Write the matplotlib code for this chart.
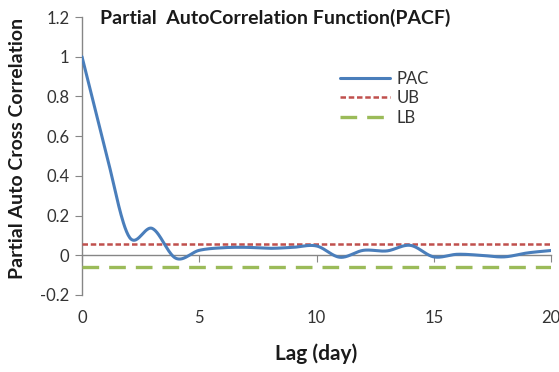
import numpy as np
import matplotlib
matplotlib.use("Agg")
import matplotlib.pyplot as plt
from matplotlib.transforms import blended_transform_factory

plt.rcParams['font.family'] = ['Lato', 'DejaVu Sans']

lags = [0, 1, 2, 3, 4, 5, 6, 7, 8, 9, 10, 11, 12, 13, 14, 15, 16, 17, 18, 19, 20]
pac = [1.0, 0.53, 0.095, 0.135, -0.015, 0.025, 0.038, 0.04, 0.035, 0.04, 0.047,
       -0.01, 0.025, 0.022, 0.05, -0.008, 0.005, 0.0, -0.008, 0.012, 0.024]
ub_value = 0.057
lb_value = -0.057
xticks = [0, 5, 10, 15, 20]
yticks = [-0.2, 0, 0.2, 0.4, 0.6, 0.8, 1, 1.2]
ytick_labels = ['-0.2', '0', '0.2', '0.4', '0.6', '0.8', '1', '1.2']


def catmull_rom(x, y, n=30):
    x = np.asarray(x, float)
    y = np.asarray(y, float)
    px = np.concatenate([[2 * x[0] - x[1]], x, [2 * x[-1] - x[-2]]])
    py = np.concatenate([[2 * y[0] - y[1]], y, [2 * y[-1] - y[-2]]])
    xs, ys = [], []
    t = np.linspace(0, 1, n, endpoint=False)
    for i in range(1, len(px) - 2):
        p0, p1, p2, p3 = py[i - 1], py[i], py[i + 1], py[i + 2]
        q0, q1, q2, q3 = px[i - 1], px[i], px[i + 1], px[i + 2]
        f = lambda a0, a1, a2, a3: 0.5 * ((2 * a1) + (-a0 + a2) * t +
                                          (2 * a0 - 5 * a1 + 4 * a2 - a3) * t ** 2 +
                                          (-a0 + 3 * a1 - 3 * a2 + a3) * t ** 3)
        xs.append(f(q0, q1, q2, q3))
        ys.append(f(p0, p1, p2, p3))
    xs.append([x[-1]])
    ys.append([y[-1]])
    return np.concatenate(xs), np.concatenate(ys)


fig = plt.figure(figsize=(5.59, 3.72), dpi=100)
ax = fig.add_axes([0.1467, 0.207, 0.839, 0.7473])

sx, sy = catmull_rom(lags, pac)
ax.plot(sx, sy, color='#4A7EBB', lw=2.2, label='PAC', zorder=4, solid_capstyle='round')
ax.plot([lags[0], lags[-1]], [ub_value, ub_value], color='#C0504D', lw=1.8,
        linestyle=(0, (2.2, 1.1)), label='UB', zorder=3)
ax.plot([lags[0], lags[-1]], [lb_value, lb_value], color='#9BBB59', lw=2.4,
        linestyle=(0, (5, 3)), label='LB', zorder=3)

ax.set_xlim(0, 20)
ax.set_ylim(-0.2, 1.2)

for s in ['top', 'right']:
    ax.spines[s].set_visible(False)
ax.spines['left'].set_color('#868686')
ax.spines['bottom'].set_color('#868686')
ax.spines['bottom'].set_position(('data', 0))
ax.spines['left'].set_linewidth(1.0)
ax.spines['bottom'].set_linewidth(1.0)

ax.set_yticks(yticks)
ax.set_yticklabels(ytick_labels)
ax.tick_params(axis='y', direction='out', length=5, color='#868686', labelsize=12,
               labelcolor='#333333', pad=4)
ax.set_xticks(xticks)
ax.tick_params(axis='x', direction='out', length=5, color='#868686', labelbottom=False)

trans = blended_transform_factory(ax.transData, ax.transAxes)
for xv in xticks:
    ax.text(xv, -0.055, str(xv), transform=trans, ha='center', va='top',
            fontsize=12, color='#333333')

ax.text(0.5, -0.175, 'Lag (day)', transform=ax.transAxes, ha='center', va='top',
        fontsize=15, fontweight='bold', color='#1a1a1a')
fig.text(0.032, 0.6, 'Partial Auto Cross Correlation', rotation=90, ha='center',
         va='center', fontsize=14, fontweight='bold', color='#1a1a1a')
fig.text(0.179, 0.952, 'Partial  AutoCorrelation Function(PACF)', ha='left', va='center',
         fontsize=14, fontweight='bold', color='#1a1a1a')

leg = ax.legend(loc='upper left', bbox_to_anchor=(0.535, 0.83), frameon=False,
                fontsize=12, handlelength=3.0, handletextpad=0.4,
                labelspacing=0.2, borderaxespad=0)
for t in leg.get_texts():
    t.set_color('#333333')

fig.savefig('out.png', dpi=100)
